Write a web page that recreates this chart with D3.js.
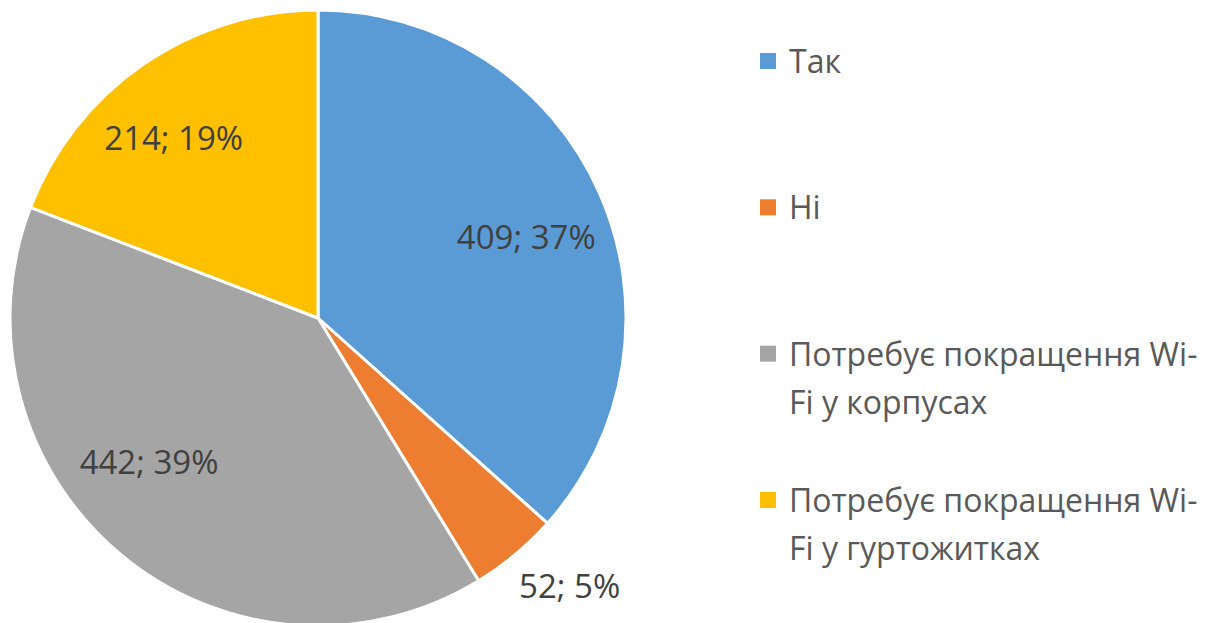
<!DOCTYPE html>
<html>
<head>
<meta charset="utf-8">
<script src="https://cdn.jsdelivr.net/npm/d3@7"></script>
<style>
  html, body { margin: 0; padding: 0; background: #fff; }
  svg { display: block; }
</style>
</head>
<body>
<div id="chart"></div>
<script>
  // Data
  var categories = ["Так", "Ні", "Потребує покращення Wi-Fi у корпусах", "Потребує покращення Wi-Fi у гуртожитках"];
  var legendLines = [["Так"], ["Ні"], ["Потребує покращення Wi-", "Fi у корпусах"], ["Потребує покращення Wi-", "Fi у гуртожитках"]];
  var values = [409, 52, 442, 214];
  var percentLabels = ["37%", "5%", "39%", "19%"];
  var colors = ["#5b9bd5", "#ed7d31", "#a5a5a5", "#ffc000"];
  var outsideLabel = [false, true, false, false];

  // Layout: small nudges from the arc centroid, like Excel's "best fit" placement
  var labelNudge = [[3, 11], [15, -16], [-25, -29], [-17, 5]];

  var W = 1208, H = 623;
  var cx = 318, cy = 318, r = 308;
  var font = "'Open Sans', 'DejaVu Sans', sans-serif";

  var svg = d3.select("#chart").append("svg").attr("width", W).attr("height", H);

  var data = values.map(function (v, i) {
    return { name: categories[i], value: v, pct: percentLabels[i], color: colors[i], outside: outsideLabel[i], nudge: labelNudge[i] };
  });

  var pie = d3.pie().sort(null).value(function (d) { return d.value; });
  var arcs = pie(data);
  var arc = d3.arc().innerRadius(0).outerRadius(r);

  var g = svg.append("g").attr("transform", "translate(" + cx + "," + cy + ")");

  // ── Slices ──────────────────────────────
  g.selectAll(".slice")
    .data(arcs)
    .join("path")
    .attr("class", "slice")
    .attr("d", arc)
    .attr("fill", function (d) { return d.data.color; })
    .attr("stroke", "#fff")
    .attr("stroke-width", 3)
    .attr("stroke-linejoin", "round");

  // ── Data labels ─────────────────────────
  var inArc = d3.arc().innerRadius(r * 0.73).outerRadius(r * 0.73);
  var outArc = d3.arc().innerRadius(r * 1.2).outerRadius(r * 1.2);

  g.selectAll(".dlabel")
    .data(arcs)
    .join("text")
    .attr("class", "dlabel")
    .attr("transform", function (d) {
      var p = (d.data.outside ? outArc : inArc).centroid(d);
      return "translate(" + (p[0] + d.data.nudge[0]) + "," + (p[1] + d.data.nudge[1]) + ")";
    })
    .attr("text-anchor", "middle")
    .attr("dy", "0.36em")
    .attr("font-family", font)
    .attr("font-size", 33)
    .attr("fill", "#404040")
    .text(function (d) { return d.data.value + "; " + d.data.pct; });

  // ── Legend ──────────────────────────────
  var legendX = 760;
  var legendY = d3.scalePoint().domain(d3.range(categories.length)).range([73, 512]);
  var lineH = 48;

  var items = svg.selectAll(".legend")
    .data(data)
    .join("g")
    .attr("class", "legend")
    .attr("transform", function (d, i) { return "translate(" + legendX + "," + legendY(i) + ")"; });

  items.append("rect")
    .attr("x", 0)
    .attr("y", -20)
    .attr("width", 16)
    .attr("height", 16)
    .attr("fill", function (d) { return d.color; });

  items.append("text")
    .attr("x", 29)
    .attr("font-family", font)
    .attr("font-size", 32)
    .attr("fill", "#595959")
    .selectAll("tspan")
    .data(function (d, i) { return legendLines[i]; })
    .join("tspan")
    .attr("x", 29)
    .attr("y", function (d, j) { return j * lineH; })
    .text(function (d) { return d; });
</script>
</body>
</html>
